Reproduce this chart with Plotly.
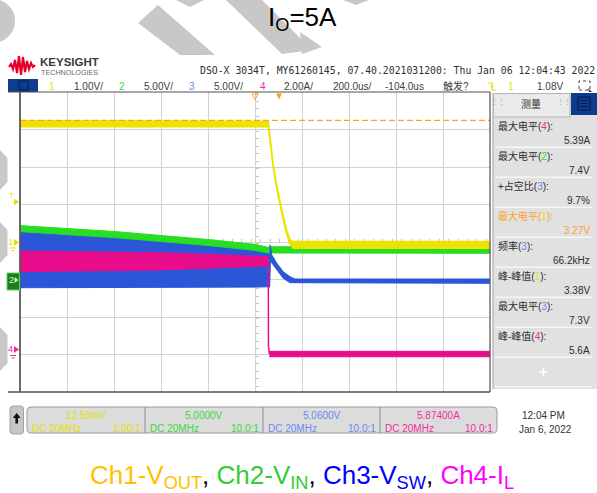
import plotly.graph_objects as go

# ------------------------------------------------------------------ data ----
TITLE = "I<sub>O</sub>=5A"
CAPTION = [("Ch1-V", "OUT", "#FFC000"), ("Ch2-V", "IN", "#33CC33"),
           ("Ch3-V", "SW", "#0000FF"), ("Ch4-I", "L", "#FF00FF")]
HEADER_ID = "DSO-X 3034T, MY61260145, 07.40.2021031200: Thu Jan 06 12:04:43 2022"

time_per_div_us = 200.0
delay_us = -104.0
time_per_div_text = "200.0us/"
delay_text = "-104.0us"
trig_text = "触发?"
trig_level_text = "1.08V"

ch_labels = ["1", "2", "3", "4"]
ch_scale = [1.0, 5.0, 5.0, 2.0]                  # units per division
ch_scale_text = ["1.00V/", "5.00V/", "5.00V/", "2.00A/"]
ch_ground_div = [-0.027, -1.053, -1.053, -2.925]  # ground level, div from centre

# Ch1  V_OUT (V) envelope
t_vout = [-1104, -48.0, -47.4, -37.2, -26.1, -11.7, 2.4, 16.4, 30.6, 45.0, 59.0, 896]
vout_hi = [3.26, 3.26, 3.25, 2.72, 2.09, 1.56, 1.12, 0.72, 0.36, 0.09, 0.04, 0.04]
vout_lo = [3.10, 3.10, 3.09, 2.60, 1.97, 1.44, 1.00, 0.60, 0.24, -0.03, -0.14, -0.14]

# Ch2  V_IN (V) envelope
t_vin = [-1104, -904, -704, -504, -304, -104, -48, -40, 896]
vin_hi = [7.45, 7.09, 6.67, 6.13, 5.60, 4.95, 4.55, 4.64, 4.64]
vin_lo = [6.65, 6.25, 5.85, 5.33, 4.80, 4.15, 3.80, 3.76, 3.76]

# Ch3  V_SW (V) envelope while switching, and after switching stops
t_sw_pre = [-1104, -904, -704, -504, -304, -104, -42]
sw_pre_hi = [6.80, 6.45, 5.95, 5.40, 4.85, 4.25, 3.95]
sw_pre_lo = [-0.83, -0.83, -0.82, -0.80, -0.78, -0.75, -0.70]
t_sw_post = [-42, -38, -33, -12, 16, 45, 66, 896]
sw_post_hi = [4.90, 4.70, 3.55, 2.47, 1.30, 0.64, 0.33, 0.33]
sw_post_lo = [-0.80, 3.10, 2.50, 1.53, 0.43, -0.16, -0.24, -0.24]

# Ch4  I_L (A) envelope
t_il_pre = [-1104, -504, -104, -48]
il_pre_hi = [5.37, 5.28, 5.10, 5.07]
il_pre_lo = [4.27, 4.36, 4.55, 4.59]
t_il_drop = [-47.4, -46.8, -43.0]
il_drop = [4.60, 0.30, -0.12]
t_il_post = [-43, 896]
il_post_hi = [0.02, 0.02]
il_post_lo = [-0.27, -0.27]

vout_max_level = 3.27   # measured max level of Ch1 (dashed marker)

meas_names = ["最大电平", "最大电平", "+占空比", "最大电平", "频率", "峰-峰值", "最大电平", "峰-峰值"]
meas_ch = [4, 2, 3, 1, 3, 1, 3, 4]
meas_values = ["5.39A", "7.4V", "9.7%", "3.27V", "66.2kHz", "3.38V", "7.3V", "5.6A"]

ch_offsets = ["12.50mV", "5.0000V", "5.0600V", "5.87400A"]
ch_coupling = ["DC 20MHz", "DC 20MHz", "DC 20MHz", "DC 20MHz"]
ch_probe = ["1.00:1", "10.0:1", "10.0:1", "10.0:1"]
clock_lines = ["12:04 PM", "Jan 6, 2022"]

# ---------------------------------------------------------------- styles ----
TRACE_COL = ["#EDE200", "#27DE22", "#2C56D8", "#E90C8B"]
TEXT_COL = ["#E2E200", "#3CD83C", "#6A8AF0", "#F02E9C"]
ORANGE = "#FFA02A"
GRID = "#D2D2D2"
SANS = "Liberation Sans, Arial, Noto Sans CJK SC, sans-serif"
MONO = "DejaVu Sans Mono, Liberation Mono, monospace"
WM = "#C8C8C8"

W, H = 597, 493
PL, PR, PT, PB = 20, 490, 92, 392


def px(x):
    return (x - PL) / (PR - PL)


def py(y):
    return (PB - y) / (PB - PT)


def yr(i):
    s, g = ch_scale[i], ch_ground_div[i]
    return [(-4 - g) * s, (4 - g) * s]


def band(t, hi, lo, color, yaxis, lw=1.0):
    xs = list(t) + list(reversed(t))
    ys = list(hi) + list(reversed(lo))
    return go.Scatter(x=xs, y=ys, mode="lines", fill="toself", fillcolor=color,
                      line=dict(color=color, width=lw), yaxis=yaxis,
                      hoverinfo="skip", showlegend=False)


def poly(pts, fill=None, line=None, lw=1, layer="above", closed=True, dash=None):
    path = "M " + " L ".join(f"{px(x):.5f},{py(y):.5f}" for x, y in pts)
    if closed:
        path += " Z"
    d = dict(type="path", xref="paper", yref="paper", path=path, layer=layer,
             line=dict(color=line if line else "rgba(0,0,0,0)", width=lw if line else 0))
    if dash:
        d["line"]["dash"] = dash
    if fill:
        d["fillcolor"] = fill
    return d


def rect(x0, y0, x1, y1, fill=None, line=None, lw=1, layer="above"):
    d = dict(type="rect", xref="paper", yref="paper", x0=px(x0), x1=px(x1),
             y0=py(y1), y1=py(y0), layer=layer,
             line=dict(color=line if line else "rgba(0,0,0,0)", width=lw if line else 0))
    if fill:
        d["fillcolor"] = fill
    return d


def seg(x0, y0, x1, y1, color, w=1, dash=None):
    d = dict(type="line", xref="paper", yref="paper", x0=px(x0), x1=px(x1),
             y0=py(y0), y1=py(y1), line=dict(color=color, width=w))
    if dash:
        d["line"]["dash"] = dash
    return d


def rrect(x0, y0, x1, y1, r, fill, line, lw=1):
    P = lambda x, y: f"{px(x):.5f},{py(y):.5f}"
    path = (f"M {P(x0 + r, y0)} L {P(x1 - r, y0)} Q {P(x1, y0)} {P(x1, y0 + r)} "
            f"L {P(x1, y1 - r)} Q {P(x1, y1)} {P(x1 - r, y1)} L {P(x0 + r, y1)} "
            f"Q {P(x0, y1)} {P(x0, y1 - r)} L {P(x0, y0 + r)} Q {P(x0, y0)} {P(x0 + r, y0)} Z")
    return dict(type="path", xref="paper", yref="paper", path=path, fillcolor=fill,
                line=dict(color=line, width=lw), layer="above")


def txt(x, y, s, size=10, color="#333333", anchor="left", family=SANS):
    return dict(x=px(x), y=py(y), xref="paper", yref="paper", text=s, showarrow=False,
                xanchor=anchor, yanchor="middle", borderpad=0,
                font=dict(size=size, color=color, family=family))


# ---------------------------------------------------------------- traces ----
traces = [
    band(t_sw_pre, sw_pre_hi, sw_pre_lo, TRACE_COL[2], "y"),
    band(t_vin, vin_hi, vin_lo, TRACE_COL[1], "y2"),
    band(t_sw_post, sw_post_hi, sw_post_lo, TRACE_COL[2], "y3"),
    band(t_il_pre, il_pre_hi, il_pre_lo, TRACE_COL[3], "y4"),
    go.Scatter(x=t_il_drop, y=il_drop, mode="lines", line=dict(color=TRACE_COL[3], width=1.5),
               yaxis="y4", hoverinfo="skip", showlegend=False),
    band(t_il_post, il_post_hi, il_post_lo, TRACE_COL[3], "y4"),
    band(t_vout, vout_hi, vout_lo, TRACE_COL[0], "y5", lw=1.3),
    go.Scatter(x=[t_vout[0], t_vout[-1]], y=[vout_max_level, vout_max_level], mode="lines",
               line=dict(color=ORANGE, width=1.2, dash="6px,3px"), yaxis="y5",
               hoverinfo="skip", showlegend=False),
]

fig = go.Figure(traces)

x_range = [delay_us - 5 * time_per_div_us, delay_us + 5 * time_per_div_us]
tick_col = "#C4C4C4"
fig.update_layout(
    width=W, height=H, autosize=False,
    margin=dict(l=PL, r=W - PR, t=PT, b=H - PB, pad=0),
    paper_bgcolor="white", plot_bgcolor="white", showlegend=False,
    xaxis=dict(range=x_range, tick0=delay_us, dtick=time_per_div_us, showgrid=True,
               gridcolor=GRID, gridwidth=1, zeroline=False, showticklabels=False,
               showline=False, anchor="free", position=0.5, ticks="inside", ticklen=3,
               tickcolor=tick_col, layer="below traces", fixedrange=True,
               minor=dict(dtick=time_per_div_us / 5, ticks="inside", ticklen=3,
                          tickcolor=tick_col, showgrid=False)),
    yaxis=dict(range=yr(2), tick0=-ch_ground_div[2] * ch_scale[2], dtick=ch_scale[2],
               showgrid=True, gridcolor=GRID, gridwidth=1, zeroline=False,
               showticklabels=False, showline=False, anchor="free", position=0.5,
               ticks="inside", ticklen=3, tickcolor=tick_col, layer="below traces",
               fixedrange=True,
               minor=dict(dtick=ch_scale[2] / 5, ticks="inside", ticklen=3,
                          tickcolor=tick_col, showgrid=False)),
    yaxis2=dict(range=yr(1), overlaying="y", visible=False, fixedrange=True),
    yaxis3=dict(range=yr(2), overlaying="y", visible=False, fixedrange=True),
    yaxis4=dict(range=yr(3), overlaying="y", visible=False, fixedrange=True),
    yaxis5=dict(range=yr(0), overlaying="y", visible=False, fixedrange=True),
)

# ---------------------------------------------------------------- shapes ----
shapes = []
# watermark fragments
shapes.append(dict(type="circle", xref="paper", yref="paper", x0=px(-29), x1=px(15),
                   y0=py(43), y1=py(-1), fillcolor=WM, line=dict(width=0), layer="below"))
shapes.append(poly([(138, 23), (158, 5), (215, 55), (180, 55)], fill=WM, layer="below"))
shapes.append(poly([(176, 0), (204, 0), (190, 7)], fill=WM, layer="below"))
shapes.append(poly([(226, 0), (262, 0), (312, 50), (282, 54)], fill=WM, layer="below"))
shapes.append(poly([(300, 32), (322, 47), (302, 54)], fill=WM, layer="below"))
shapes.append(poly([(343, 0), (369, 0), (356, 5)], fill=WM, layer="below"))
for y0, y1 in [(150, 190), (222, 263), (327, 371)]:
    shapes.append(poly([(0, y0), (7.5, y0 + 8), (7.5, y1 - 8), (0, y1)], fill=WM, layer="below"))

# Keysight logo wave
shapes.append(poly([(9, 67), (11, 64), (13, 69), (15, 60), (17, 73), (19, 56), (21, 75),
                    (23, 57), (25, 72), (27, 61), (29, 69), (31, 63), (33, 67), (35, 65)],
                   line="#E4002B", lw=2.2, closed=False))

# header row widgets
shapes.append(rect(8, 79, 38, 92, fill="#0E3D8E"))
shapes.append(rect(19, 81, 28, 90, line="#061D4C", lw=1))
shapes.append(poly([(488, 83), (492, 83), (492, 90), (496, 90)], line=TEXT_COL[0], lw=1.2, closed=False))
shapes.append(poly([(490.3, 85.5), (493.7, 85.5), (492, 88)], fill=TEXT_COL[0]))
shapes.append(rect(579, 81, 590, 90, line="#444444", lw=1))
shapes[-1]["line"]["dash"] = "dot"
shapes.append(poly([(588, 88), (592, 92), (589, 92)], fill="#333333"))

# frame
shapes.append(seg(8, PT, PR, PT, "#505050", 1.2))
shapes.append(seg(8, PB, PR, PB, "#505050", 1.6))
shapes.append(seg(PL, PT, PL, PB, "#5A5A5A", 1.8))
shapes.append(seg(PR, PT, PR, PB, "#505050", 1.2))

# time reference / trigger markers
shapes.append(poly([(252, 94), (258, 94), (255, 100)], line=ORANGE, lw=1, fill="rgba(0,0,0,0)"))
shapes.append(poly([(276, 93.5), (282, 93.5), (279, 99.5)], fill=ORANGE))

# ground / trigger markers on the left
shapes.append(poly([(14, 198.5), (19, 202), (14, 205.5)], fill=TEXT_COL[0]))
shapes.append(poly([(14, 239), (19, 242.5), (14, 246)], fill=TEXT_COL[0]))
shapes.append(seg(10, 248, 16, 248, TEXT_COL[0], 1))
shapes.append(seg(11.5, 250.5, 14.5, 250.5, TEXT_COL[0], 1))
shapes.append(rect(7, 273, 19.5, 290, fill="#1E7E1E", line="#50DC50", lw=1))
shapes.append(poly([(14.5, 277), (18.5, 280), (14.5, 283)], fill="#BFF5BF"))
shapes.append(poly([(14, 346), (19, 349.5), (14, 353)], fill=TEXT_COL[3]))
shapes.append(seg(10, 355.5, 16, 355.5, TEXT_COL[3], 1))
shapes.append(seg(11.5, 358, 14.5, 358, TEXT_COL[3], 1))

# measurement panel
shapes.append(rect(493, 93, 597, 389, fill="#E1E1E1"))
shapes.append(seg(493, 93, 493, 389, "#A6A6A6", 1))
shapes.append(rect(493.5, 93.5, 570, 117, fill="#EAEAEA", line="#B4B4B4", lw=1))
shapes.append(rect(571, 93, 597, 115, fill="#0E3C8C"))
shapes.append(rect(578, 97, 590, 110, line="#061D4C", lw=1.2))
for k in range(3):
    shapes.append(seg(580.5, 100.5 + 3 * k, 587.5, 100.5 + 3 * k, "#061D4C", 1))
for k in range(9):
    yy = 147.3 + 30 * k if k < 8 else 386.7
    shapes.append(seg(495, yy, 592, yy, "#F6F6F6", 1.5))

# bottom bar
shapes.append(rrect(10, 406, 23.5, 434, 3, "#C6C6C6", "#A2A2A2"))
shapes.append(poly([(16.7, 413), (12.8, 418), (15.4, 418), (15.4, 423.5), (18, 423.5),
                    (18, 418), (20.6, 418)], fill="#111111"))
shapes.append(rrect(27, 407, 497, 433, 4, "#DCDCDC", "#9C9C9C"))
for xd in [145, 263, 380]:
    shapes.append(seg(xd, 407, xd, 433, "#8C8C8C", 1))

fig.update_layout(shapes=shapes)

# ----------------------------------------------------------- annotations ----
ann = []
ann.append(txt(302, 19, TITLE, size=26, color="#000000", anchor="center"))
cap = ", ".join(f'<span style="color:{c}">{a}<sub>{b}</sub></span>' for a, b, c in CAPTION)
ann.append(txt(302, 476, cap, size=26, color="#000000", anchor="center"))

ann.append(txt(39, 62, "<b>KEYSIGHT</b>", size=11.5, color="#3A3A3A"))
ann.append(txt(39.5, 72, "TECHNOLOGIES", size=7.2, color="#6A6A6A"))
ann.append(txt(199, 70, HEADER_ID, size=9.8, color="#303030", family=MONO))

ch_num_x = [52, 121.5, 192, 262.5]
ch_txt_x = [72.5, 142.5, 212.5, 283]
for i in range(4):
    ann.append(txt(ch_num_x[i], 86, ch_labels[i], size=10, color=TEXT_COL[i], anchor="center"))
    ann.append(txt(ch_txt_x[i], 86, ch_scale_text[i], size=10, color="#404040"))
ann.append(txt(331.5, 86, time_per_div_text, size=10, color="#404040"))
ann.append(txt(384, 86, delay_text, size=10, color="#404040"))
ann.append(txt(442, 86, trig_text, size=10, color="#404040"))
ann.append(txt(511, 86, ch_labels[0], size=10, color=TEXT_COL[0], anchor="center"))
ann.append(txt(535.5, 86, trig_level_text, size=10, color="#404040"))

# left markers
ann.append(txt(11, 195, "T", size=8, color=TEXT_COL[0], anchor="center"))
ann.append(txt(10.5, 241.5, ch_labels[0], size=9, color=TEXT_COL[0], anchor="center"))
ann.append(txt(11, 279.5, ch_labels[1], size=9, color="#CFFFCF", anchor="center"))
ann.append(txt(10.5, 348.5, ch_labels[3], size=9, color=TEXT_COL[3], anchor="center"))

# measurement panel text
ann.append(txt(531, 103.5, "测量", size=10, color="#333333", anchor="center"))
ann.append(txt(498, 101, "⋮⋮", size=7, color="#999999", anchor="center"))
ann.append(txt(564, 101, "⋮⋮", size=7, color="#999999", anchor="center"))
for k in range(8):
    c = meas_ch[k]
    base = ORANGE if (k == 3) else "#2E2E2E"
    lab = f'{meas_names[k]}(<span style="color:{TEXT_COL[c - 1]}">{c}</span>):'
    ann.append(txt(496.5, 125.5 + 30.1 * k, lab, size=10, color=base))
    ann.append(txt(591, 140.8 + 30.0 * k, meas_values[k], size=10, color=base, anchor="right"))
ann.append(txt(543, 371.5, "<b>+</b>", size=15, color="#FFFFFF", anchor="center"))

# bottom channel boxes
box_l = [27, 145, 263, 380]
box_r = [145, 263, 380, 497]
for i in range(4):
    ann.append(txt((box_l[i] + box_r[i]) / 2, 415, ch_offsets[i], size=10, color=TEXT_COL[i], anchor="center"))
    ann.append(txt(box_l[i] + 3.5, 428, ch_coupling[i], size=10, color=TEXT_COL[i]))
    ann.append(txt(box_r[i] - 3, 428, ch_probe[i], size=10, color=TEXT_COL[i], anchor="right"))
ann.append(txt(543, 415, clock_lines[0], size=10, color="#333333", anchor="center"))
ann.append(txt(545, 429, clock_lines[1], size=10, color="#333333", anchor="center"))

fig.update_layout(annotations=ann)

fig.write_html("out.html", config={"displayModeBar": False},
               post_script="document.body.style.margin='0px';document.body.style.overflow='hidden';")
